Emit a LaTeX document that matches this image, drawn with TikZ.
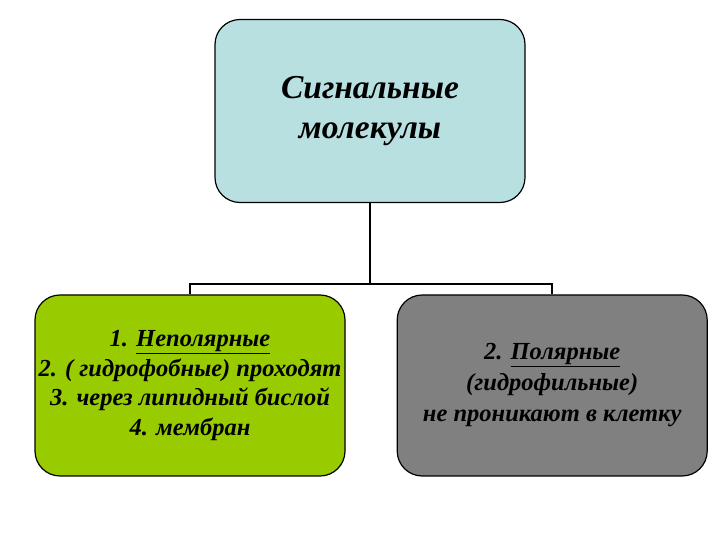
\documentclass[tikz,border=0pt]{standalone}
\usepackage{fontspec}
\setmainfont{Liberation Serif}
\usepackage{xcolor}
\usepackage{tikz}
\usetikzlibrary{positioning}

\definecolor{boxcyan}{HTML}{B9E0E1}
\definecolor{boxgreen}{HTML}{99CC00}
\definecolor{boxgray}{HTML}{808080}

\begin{document}
\begin{tikzpicture}[
  x=1pt, y=1pt,
  font=\bfseries\itshape,
  b/.style={draw, line width=1.2pt, rectangle, rounded corners=25pt, minimum width=310pt, align=center},
  con/.style={line width=1.6pt}
]
  \useasboundingbox (0,0) rectangle (720,540);
  \node[b, fill=boxcyan, minimum height=183pt, font=\fontsize{33.5}{40}\bfseries\itshape] (mol) at (370,429) {Сигнальные\\молекулы};
  \node[b, fill=boxgreen, minimum height=181pt, font=\fontsize{24.5}{29.5}\bfseries\itshape] (nonpol) at (190,154.5)
    {1. \underline{Неполярные}\\2. ( гидрофобные) проходят\\3. через липидный бислой\\4. мембран};
  \node[b, fill=boxgray, minimum height=181pt, right=51pt of nonpol, font=\fontsize{24.5}{31}\bfseries\itshape] (pol)
    {2. \underline{Полярные}\\(гидрофильные)\\не проникают в клетку};
  \coordinate[below=81pt of mol.south] (split);
  \draw[con] (mol.south) -- (split) -| (nonpol.north);
  \draw[con] (split) -| (pol.north);
\end{tikzpicture}
\end{document}
